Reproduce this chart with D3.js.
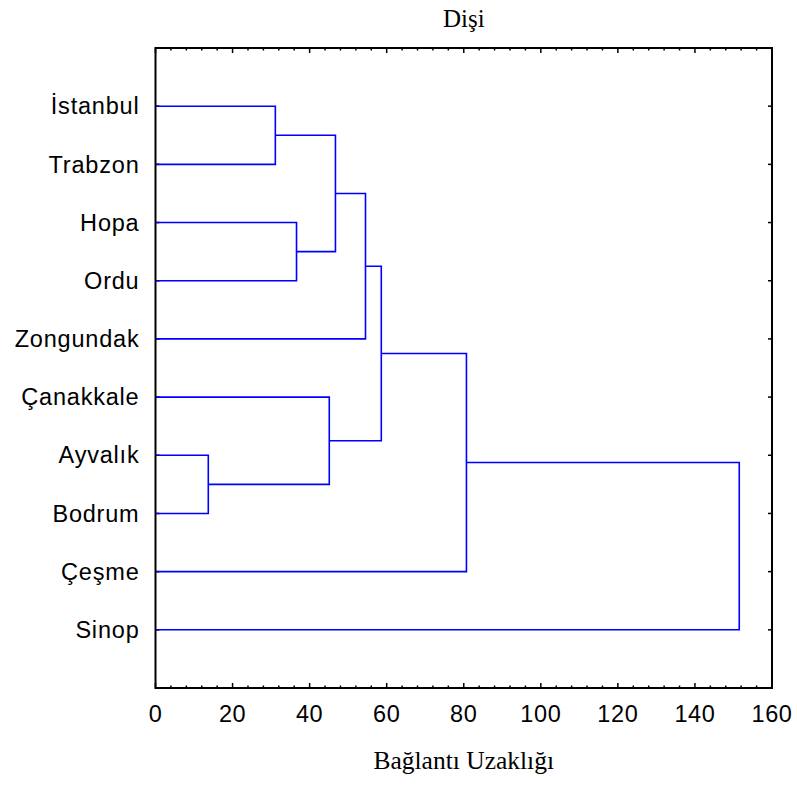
<!DOCTYPE html>
<html>
<head>
<meta charset="utf-8">
<script src="https://cdn.jsdelivr.net/npm/d3@7"></script>
<style>
  body { margin: 0; background: #fff; }
</style>
</head>
<body>
<svg></svg>
<script>
// leaf order top to bottom
const cities = ["İstanbul", "Trabzon", "Hopa", "Ordu", "Zongundak", "Çanakkale", "Ayvalık", "Bodrum", "Çeşme", "Sinop"];
// merges: [left node, right node, linkage distance]; leaves are 0..9, new clusters 10..
const merges = [
  [6, 7, 13.7],    // 10 Ayvalık + Bodrum
  [0, 1, 31.1],    // 11 İstanbul + Trabzon
  [2, 3, 36.6],    // 12 Hopa + Ordu
  [5, 10, 45.1],   // 13 Çanakkale + 10
  [11, 12, 46.7],  // 14
  [14, 4, 54.5],   // 15 + Zongundak
  [15, 13, 58.6],  // 16
  [16, 8, 80.7],   // 17 + Çeşme
  [17, 9, 151.5]   // 18 + Sinop
];
const xTicks = [0, 20, 40, 60, 80, 100, 120, 140, 160];

const margin = { top: 48, right: 25, bottom: 97, left: 155.5 };
const W = 797, H = 785;
const width = W - margin.left - margin.right;
const height = H - margin.top - margin.bottom;

const svg = d3.select("svg").attr("width", W).attr("height", H);
const plot = svg.append("g").attr("transform", `translate(${margin.left}, ${margin.top})`);

const x = d3.scaleLinear().domain([0, 160]).range([0, width]);
const y = d3.scaleLinear().domain([0, cities.length + 1]).range([0, height]);

// node positions
const nodes = cities.map((c, i) => ({ x: 0, y: i + 1 }));
merges.forEach(([a, b, d]) => {
  nodes.push({ x: d, y: (nodes[a].y + nodes[b].y) / 2 });
});

// axis ticks (inward)
const minor = d3.range(0, 161, 4).filter(v => v % 20 !== 0);
const tickG = plot.append("g").attr("stroke", "#000").attr("stroke-width", 1.5);
xTicks.forEach(v => {
  tickG.append("line").attr("x1", x(v)).attr("x2", x(v)).attr("y1", height).attr("y2", height - 5);
  tickG.append("line").attr("x1", x(v)).attr("x2", x(v)).attr("y1", 0).attr("y2", 5);
});
minor.forEach(v => {
  tickG.append("line").attr("x1", x(v)).attr("x2", x(v)).attr("y1", height).attr("y2", height - 2.5);
  tickG.append("line").attr("x1", x(v)).attr("x2", x(v)).attr("y1", 0).attr("y2", 2.5);
});
cities.forEach((c, i) => {
  tickG.append("line").attr("x1", width).attr("x2", width - 4).attr("y1", y(i + 1)).attr("y2", y(i + 1));
  tickG.append("line").attr("x1", 0).attr("x2", 4).attr("y1", y(i + 1)).attr("y2", y(i + 1));
});

// dendrogram links
const links = plot.append("g").attr("fill", "none").attr("stroke", "#0000ff").attr("stroke-width", 1.6);
merges.forEach(([a, b, d]) => {
  const na = nodes[a], nb = nodes[b];
  links.append("path")
    .attr("d", `M${x(na.x)},${y(na.y)}H${x(d)}V${y(nb.y)}H${x(nb.x)}`);
});

// frame
plot.append("rect").attr("width", width).attr("height", height)
  .attr("fill", "none").attr("stroke", "#000").attr("stroke-width", 2);

// tick labels
plot.append("g").selectAll("text").data(xTicks).join("text")
  .attr("x", d => x(d)).attr("y", height + 34)
  .attr("text-anchor", "middle")
  .attr("font-family", "Liberation Sans, Arial, sans-serif").attr("font-size", 23.5)
  .attr("letter-spacing", 0.6)
  .text(d => d);

plot.append("g").selectAll("text").data(cities).join("text")
  .attr("x", -16).attr("y", (d, i) => y(i + 1)).attr("dy", "0.35em")
  .attr("text-anchor", "end")
  .attr("font-family", "Liberation Sans, Arial, sans-serif").attr("font-size", 23.5)
  .attr("letter-spacing", 0.8)
  .text(d => d);

// titles
svg.append("text").attr("x", margin.left + width / 2).attr("y", 27)
  .attr("text-anchor", "middle").attr("font-family", "Liberation Serif, Times New Roman, serif")
  .attr("font-size", 25).text("Dişi");
svg.append("text").attr("x", margin.left + width / 2).attr("y", 769)
  .attr("text-anchor", "middle").attr("font-family", "Liberation Serif, Times New Roman, serif")
  .attr("font-size", 25.5).text("Bağlantı Uzaklığı");
</script>
</body>
</html>
